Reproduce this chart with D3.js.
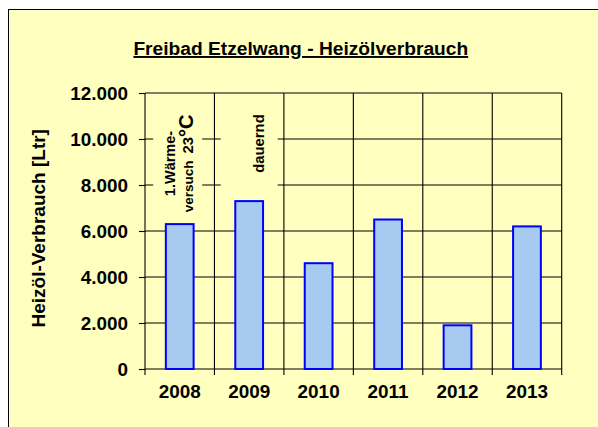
<!DOCTYPE html>
<html>
<head>
<meta charset="utf-8">
<script src="https://cdn.jsdelivr.net/npm/d3@7"></script>
<style>
  html, body { margin: 0; padding: 0; background: #ffffff; }
  svg { display: block; }
  text { font-family: "Liberation Sans", Arial, sans-serif; font-weight: bold; fill: #000; }
</style>
</head>
<body>
<svg id="chart" width="598" height="427"></svg>
<script>
// ---- data ----
const years = ["2008", "2009", "2010", "2011", "2012", "2013"];
const consumption = [6300, 7300, 4600, 6500, 1900, 6200];
const yTicks = [0, 2000, 4000, 6000, 8000, 10000, 12000];
const yTickLabels = ["0", "2.000", "4.000", "6.000", "8.000", "10.000", "12.000"];
const titleText = "Freibad Etzelwang - Heizölverbrauch";
const yTitle = "Heizöl-Verbrauch [Ltr]";
const noteYears = ["2008", "2009"];
const noteLines = [["1.Wärme-", "versuch", "23", "°C"], ["dauernd"]];

// ---- layout ----
const svg = d3.select("#chart");
const W = 598, H = 427;
const plot = { left: 145, right: 561.7, top: 93, bottom: 369 };

svg.append("rect").attr("x", 0).attr("y", 0).attr("width", W).attr("height", H).attr("fill", "#ffffff");
svg.append("rect")
  .attr("x", 8.5).attr("y", 9.5).attr("width", W + 10).attr("height", H + 10)
  .attr("fill", "#FFFFC0").attr("stroke", "#000").attr("stroke-width", 1);

const x = d3.scaleBand().domain(years).range([plot.left, plot.right]).padding(0);
const y = d3.scaleLinear().domain([0, 12000]).range([plot.bottom, plot.top]);

// horizontal grid lines
svg.append("g").selectAll("line").data(yTicks).join("line")
  .attr("x1", plot.left).attr("x2", plot.right)
  .attr("y1", d => y(d)).attr("y2", d => y(d))
  .attr("stroke", "#000").attr("stroke-width", 1.1);

// vertical grid lines (category boundaries), extending below as ticks
const bounds = years.map(d => x(d)).concat([plot.right]);
svg.append("g").selectAll("line").data(bounds).join("line")
  .attr("x1", d => d).attr("x2", d => d)
  .attr("y1", plot.top).attr("y2", plot.bottom + 6)
  .attr("stroke", "#000").attr("stroke-width", 1.1);

// y axis ticks + labels
const yAxis = d3.axisLeft(y).tickValues(yTicks).tickSize(6).tickPadding(11)
  .tickFormat((d, i) => yTickLabels[i]);
const ya = svg.append("g").attr("transform", `translate(${plot.left},0)`).call(yAxis);
ya.select(".domain").remove();
ya.selectAll(".tick line").attr("stroke", "#000").attr("stroke-width", 1.1);
ya.selectAll(".tick text").attr("font-size", 18.9).attr("font-family", "Liberation Sans, Arial, sans-serif").attr("font-weight", "bold");

// x axis labels
const xAxis = d3.axisBottom(x).tickSize(0).tickPadding(16);
const xa = svg.append("g").attr("transform", `translate(0,${plot.bottom})`).call(xAxis);
xa.select(".domain").remove();
xa.selectAll(".tick text").attr("font-size", 18.9).attr("font-family", "Liberation Sans, Arial, sans-serif").attr("font-weight", "bold");

// annotation boxes
const boxSpec = [{ w: 49, dx: -2, top: 94.5, bottom: 216 }, { w: 57, dx: 0, top: 94.5, bottom: 196 }];
noteYears.forEach((yr, i) => {
  const cx = x(yr) + x.bandwidth() / 2;
  const b = boxSpec[i];
  svg.append("rect")
    .attr("x", cx + b.dx - b.w / 2).attr("y", b.top)
    .attr("width", b.w).attr("height", b.bottom - b.top)
    .attr("fill", "#FFFFC0");
});

// bars
svg.append("g").selectAll("rect").data(years).join("rect")
  .attr("x", d => x(d) + x.bandwidth() * 0.3)
  .attr("width", x.bandwidth() * 0.4)
  .attr("y", (d, i) => y(consumption[i]))
  .attr("height", (d, i) => y(0) - y(consumption[i]))
  .attr("fill", "#A6CAF0").attr("stroke", "#0000FF").attr("stroke-width", 2);

// note 1
{
  const cx = x(noteYears[0]) + x.bandwidth() / 2;
  const g = svg.append("g").attr("transform", `translate(${cx - 2},163.5) rotate(-90)`);
  g.append("text").attr("x", 0).attr("y", -2.5).attr("text-anchor", "middle")
    .attr("font-size", 14.5).text(noteLines[0][0]);
  const t2 = g.append("text").attr("x", 0).attr("y", 15.2).attr("text-anchor", "middle").attr("font-size", 13.5);
  t2.append("tspan").text(noteLines[0][1]);
  t2.append("tspan").attr("dx", 7).attr("font-size", 14.8).text(noteLines[0][2]);
  t2.append("tspan").attr("font-size", 20).text(noteLines[0][3]);
}
// note 2
{
  const cx = x(noteYears[1]) + x.bandwidth() / 2;
  const g = svg.append("g").attr("transform", `translate(${cx},143.5) rotate(-90)`);
  g.append("text").attr("x", 0).attr("y", 14.4).attr("text-anchor", "middle")
    .attr("font-size", 14.8).text(noteLines[1][0]);
}

// title
svg.append("text").attr("x", 300.8).attr("y", 55).attr("text-anchor", "middle")
  .attr("font-size", 19.2).style("text-decoration", "underline").text(titleText);

// y-axis title
svg.append("text").attr("transform", "translate(45,228.3) rotate(-90)")
  .attr("text-anchor", "middle").attr("font-size", 19).text(yTitle);
</script>
</body>
</html>
